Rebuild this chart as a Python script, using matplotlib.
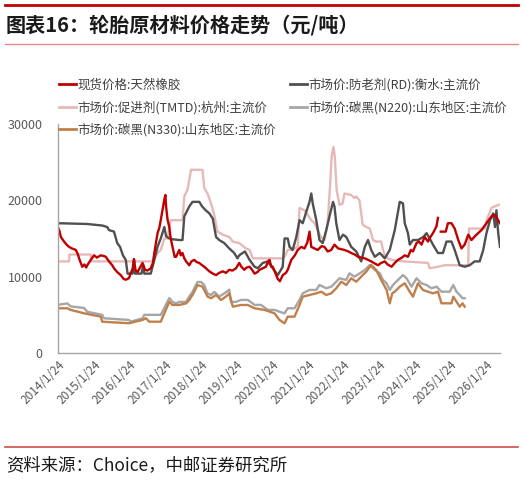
import numpy as np
import matplotlib
matplotlib.use("Agg")
import matplotlib.pyplot as plt
from matplotlib.lines import Line2D

plt.rcParams['font.family'] = ['Noto Sans CJK SC', 'DejaVu Sans']

# ---- data (decimal years, 元/吨) ----
rubber_x = [2014.03, 2014.10, 2014.14, 2014.23, 2014.30, 2014.37, 2014.45, 2014.56, 2014.62, 2014.65,
            2014.70, 2014.74, 2014.80, 2014.85, 2014.88, 2014.95, 2014.98, 2015.07, 2015.15, 2015.26,
            2015.35, 2015.40, 2015.49, 2015.58, 2015.63, 2015.72, 2015.82, 2015.90, 2015.96, 2016.05,
            2016.10, 2016.15, 2016.19, 2016.23, 2016.29, 2016.36, 2016.43, 2016.50, 2016.57, 2016.66,
            2016.72, 2016.76, 2016.85, 2016.90, 2016.94, 2017.00, 2017.04, 2017.07, 2017.09, 2017.13,
            2017.18, 2017.22, 2017.27, 2017.33, 2017.37, 2017.46, 2017.50, 2017.55, 2017.60, 2017.65,
            2017.74, 2017.80, 2017.88, 2017.95, 2018.02, 2018.10, 2018.16, 2018.23, 2018.30, 2018.40,
            2018.49, 2018.58, 2018.68, 2018.77, 2018.86, 2018.95, 2019.05, 2019.14, 2019.20, 2019.28,
            2019.35, 2019.43, 2019.50, 2019.57, 2019.65, 2019.71, 2019.80, 2019.89, 2019.95, 2019.99,
            2020.04, 2020.08, 2020.15, 2020.22, 2020.28, 2020.36, 2020.45, 2020.50, 2020.60, 2020.70,
            2020.78, 2020.88, 2020.97, 2021.05, 2021.11, 2021.16, 2021.25, 2021.34, 2021.45, 2021.53,
            2021.62, 2021.72, 2021.81, 2021.91, 2022.00, 2022.09, 2022.20, 2022.28, 2022.38, 2022.47,
            2022.56, 2022.66, 2022.75, 2022.84, 2022.95, 2023.03, 2023.12, 2023.22, 2023.30, 2023.41,
            2023.50, 2023.59, 2023.70, 2023.78, 2023.87, 2023.95, 2024.01, 2024.11, 2024.18, 2024.25,
            2024.34, 2024.43, 2024.50, 2024.57, 2024.67, 2024.71, 2024.75, 2024.79, 2024.93, 2024.99,
            2025.09, 2025.18, 2025.28, 2025.37, 2025.46, 2025.56, 2025.65, 2025.79, 2025.93, 2026.07,
            2026.21, 2026.31, 2026.38, 2026.45]
rubber_y = [16800, 16000, 15200, 14600, 14200, 13900, 13700, 13500, 12900, 12400,
            11800, 11300, 11600, 11200, 11500, 12000, 12200, 12800, 12500, 12800,
            12700, 12600, 12000, 11500, 11100, 10600, 10200, 9700, 9600, 9800,
            10500, 11000, 12300, 10900, 10600, 11200, 11800, 10900, 10800, 11100,
            11800, 13100, 15700, 16400, 17400, 19000, 20100, 20700, 19200, 17500,
            16500, 15000, 13900, 12600, 12600, 13500, 12800, 13100, 12400, 12000,
            11500, 12000, 12200, 11900, 11800, 11500, 11300, 11000, 10700, 10400,
            10200, 10500, 10700, 10500, 10900, 10800, 11100, 11800, 11300, 10900,
            11200, 11300, 10900, 10400, 10600, 10900, 11100, 11300, 12000, 12200,
            11300, 11300, 10500, 9700, 9400, 10200, 10500, 10900, 12200, 12800,
            13500, 13900, 13700, 14500, 15900, 13900, 13700, 13500, 14000, 13900,
            13300, 13500, 14200, 13700, 13600, 13500, 13300, 13100, 12900, 12600,
            12500, 12400, 12200, 12000, 11700, 11500, 11800, 12000, 11600, 11300,
            11800, 12200, 12500, 12800, 12600, 13500, 13300, 14400, 14600, 14200,
            15200, 14600, 15200, 15700, 16600, 17700, np.nan, 15900, 15900, 17000,
            17000, 16300, 14800, 13700, 14200, 15500, 14800, 15500, 16100, 17000,
            17900, 18100, 17500, 17000]

rd_x = [2014.03, 2014.10, 2014.88, 2015.30, 2015.44, 2015.49, 2015.63, 2015.72, 2015.80, 2015.88,
        2015.96, 2016.01, 2016.15, 2016.19, 2016.22, 2016.40, 2016.45, 2016.48, 2016.66, 2016.76,
        2016.85, 2016.94, 2017.04, 2017.09, 2017.18, 2017.27, 2017.46, 2017.55, 2017.60, 2017.74,
        2017.83, 2018.02, 2018.10, 2018.20, 2018.30, 2018.40, 2018.49, 2018.58, 2018.72, 2018.86,
        2019.00, 2019.09, 2019.14, 2019.30, 2019.43, 2019.57, 2019.66, 2019.80, 2019.94, 2020.08,
        2020.22, 2020.36, 2020.41, 2020.50, 2020.55, 2020.64, 2020.74, 2020.83, 2020.92, 2021.02,
        2021.11, 2021.16, 2021.20, 2021.30, 2021.39, 2021.48, 2021.58, 2021.67, 2021.77, 2021.81,
        2021.86, 2021.95, 2022.05, 2022.14, 2022.28, 2022.42, 2022.56, 2022.66, 2022.75, 2022.84,
        2022.94, 2023.08, 2023.22, 2023.36, 2023.50, 2023.64, 2023.73, 2023.78, 2023.87, 2023.92,
        2024.01, 2024.15, 2024.30, 2024.39, 2024.48, 2024.57, 2024.71, 2024.85, 2024.95, 2025.09,
        2025.18, 2025.32, 2025.46, 2025.60, 2025.74, 2025.88, 2025.98, 2026.07, 2026.17, 2026.26,
        2026.31, 2026.35, 2026.40, 2026.45]
rd_y = [16800, 17000, 16900, 16700, 16500, 16100, 15900, 14400, 13900, 12800,
        12200, 10400, 10400, 12300, 10400, 10400, 11500, 10400, 10400, 12200,
        13900, 15000, 16500, 15300, 15000, 14900, 14800, 14800, 17900, 19200,
        19800, 19800, 19200, 18700, 18300, 17600, 15200, 14800, 14400, 13700,
        13100, 12400, 12800, 13300, 12200, 11300, 11100, 11800, 12000, 11100,
        10200, 11300, 15000, 15000, 13900, 13500, 15200, 17400, 17000, 18500,
        19800, 20900, 19600, 17400, 14800, 14400, 16100, 17900, 19800, 19200,
        17000, 14800, 15500, 15200, 13900, 13300, 12000, 13900, 14800, 13500,
        12600, 13100, 12400, 13500, 16100, 19800, 19600, 17000, 15700, 14200,
        14800, 14800, 15200, 15700, 15000, 14200, 13100, 13100, 14600, 14600,
        13500, 11500, 11300, 11500, 12000, 12000, 13500, 15700, 17400, 18300,
        16500, 18700, 15700, 13900]

tmtd_x = [2014.03, 2014.37, 2014.38, 2014.98, 2015.00, 2016.70, 2016.76, 2016.85, 2016.94, 2017.04,
          2017.13, 2017.22, 2017.55, 2017.60, 2017.69, 2017.74, 2017.79, 2018.11, 2018.16, 2018.25,
          2018.35, 2018.44, 2018.53, 2018.68, 2018.86, 2018.96, 2019.14, 2019.33, 2019.43, 2019.52,
          2020.36, 2020.41, 2020.50, 2020.60, 2020.78, 2020.83, 2020.97, 2021.06, 2021.16, 2021.25,
          2021.34, 2021.43, 2021.53, 2021.62, 2021.69, 2021.73, 2021.78, 2021.82, 2021.87, 2021.95,
          2022.04, 2022.09, 2022.28, 2022.37, 2022.42, 2022.51, 2022.56, 2022.60, 2022.70, 2022.80,
          2022.89, 2022.98, 2023.12, 2023.17, 2023.22, 2023.31, 2023.41, 2023.75, 2024.43, 2024.48,
          2024.71, 2024.90, 2025.56, 2025.58, 2026.03, 2026.07, 2026.17, 2026.21, 2026.40, 2026.45]
tmtd_y = [12000, 12000, 12900, 12900, 12000, 12000, 12400, 13100, 13500, 15000,
          15000, 17400, 17400, 20500, 21400, 22700, 24000, 24000, 21600, 20900,
          19600, 18100, 15900, 15500, 15200, 14600, 14400, 13700, 13500, 12400,
          12400, 12600, 13500, 13500, 13900, 19000, 18700, 18100, 17400, 17000,
          16100, 15200, 14800, 17000, 22200, 25700, 27000, 25700, 21400, 19400,
          19600, 20900, 20700, 20300, 20500, 20000, 18300, 16800, 16500, 16300,
          14800, 14600, 14600, 13500, 12800, 12400, 12200, 12000, 11800, 11100,
          11300, 11500, 11500, 16300, 16300, 17400, 18500, 19000, 19400, 19400]

n220_x = [2014.04, 2014.32, 2014.42, 2014.79, 2014.88, 2015.30, 2015.35, 2016.05, 2016.10, 2016.43,
          2016.48, 2016.94, 2017.04, 2017.18, 2017.27, 2017.37, 2017.46, 2017.65, 2017.74, 2017.83,
          2017.97, 2018.07, 2018.16, 2018.25, 2018.35, 2018.44, 2018.58, 2018.72, 2018.86, 2018.91,
          2019.05, 2019.19, 2019.38, 2019.57, 2019.75, 2019.94, 2020.13, 2020.27, 2020.41, 2020.50,
          2020.69, 2020.83, 2020.92, 2021.11, 2021.30, 2021.39, 2021.58, 2021.72, 2021.86, 2021.95,
          2022.14, 2022.23, 2022.37, 2022.52, 2022.66, 2022.80, 2022.94, 2023.08, 2023.17, 2023.27,
          2023.36, 2023.45, 2023.59, 2023.73, 2023.83, 2023.97, 2024.11, 2024.25, 2024.39, 2024.53,
          2024.67, 2024.81, 2025.04, 2025.14, 2025.23, 2025.32, 2025.40, 2025.46]
n220_y = [6300, 6500, 6100, 5900, 5400, 5000, 4550, 4330, 4100, 4550,
          5000, 5000, 5900, 7200, 6700, 6500, 6700, 6700, 7400, 8000,
          9300, 9300, 8900, 7800, 7600, 8000, 7400, 7800, 8300, 6700,
          6700, 6950, 6950, 6300, 6300, 5650, 5650, 5410, 5200, 5860,
          5860, 6950, 7820, 8260, 8260, 8910, 8480, 8690, 9340, 9790,
          9570, 10440, 10000, 10440, 10880, 11530, 10880, 10440, 9570, 9130,
          8260, 8910, 9570, 10220, 9790, 8690, 9790, 9130, 8910, 8480,
          8690, 8030, 8030, 8910, 8030, 7600, 7170, 7170]

n330_x = [2014.04, 2014.32, 2014.42, 2014.79, 2015.26, 2015.30, 2016.05, 2016.43, 2016.52, 2016.62,
          2016.94, 2017.04, 2017.18, 2017.27, 2017.46, 2017.65, 2017.74, 2017.83, 2017.97, 2018.11,
          2018.25, 2018.35, 2018.49, 2018.63, 2018.77, 2018.86, 2018.96, 2019.19, 2019.38, 2019.57,
          2019.85, 2020.13, 2020.27, 2020.41, 2020.50, 2020.69, 2020.83, 2020.92, 2021.11, 2021.30,
          2021.44, 2021.58, 2021.72, 2021.86, 2022.00, 2022.14, 2022.28, 2022.42, 2022.56, 2022.70,
          2022.84, 2022.98, 2023.12, 2023.27, 2023.36, 2023.43, 2023.50, 2023.64, 2023.78, 2023.92,
          2024.01, 2024.15, 2024.29, 2024.43, 2024.57, 2024.71, 2024.81, 2025.09, 2025.14, 2025.23,
          2025.32, 2025.40, 2025.46]
n330_y = [5860, 5860, 5640, 5200, 4760, 4100, 3900, 4330, 4550, 4100,
          4100, 5200, 6700, 6300, 6300, 6500, 6950, 7600, 8900, 8700,
          7400, 7170, 7600, 6950, 7400, 7800, 6070, 6290, 6290, 5860,
          5640, 5200, 4330, 3890, 4760, 4760, 6290, 7380, 7600, 7820,
          8030, 7600, 7820, 8480, 9340, 8910, 9790, 9340, 10000, 10650,
          11530, 10880, 9570, 8260, 6510, 7820, 8030, 8690, 9130, 8030,
          7380, 9130, 8260, 8030, 7820, 8030, 6510, 6510, 7380, 6720,
          6070, 6510, 6070]

labels = ['现货价格:天然橡胶', '市场价:防老剂(RD):衡水:主流价', '市场价:促进剂(TMTD):杭州:主流价',
          '市场价:碳黑(N220):山东地区:主流价', '市场价:碳黑(N330):山东地区:主流价']
colors = ['#C00000', '#505050', '#E6B9B8', '#A6A6A6', '#C0804D']
tick_years = list(range(2014, 2027))

fig = plt.figure(figsize=(5.23, 4.8), dpi=100)
ax = fig.add_axes([58 / 523, 1 - 353 / 480, 442 / 523, 229 / 480])

# draw back to front
ax.plot(n220_x, n220_y, color=colors[3], lw=1.7)
ax.plot(n330_x, n330_y, color=colors[4], lw=1.7)
ax.plot(tmtd_x, tmtd_y, color=colors[2], lw=1.7)
ax.plot(rd_x, rd_y, color=colors[1], lw=1.7)
ax.plot(rubber_x, rubber_y, color=colors[0], lw=1.7)

ax.set_ylim(0, 30000)
ax.set_yticks([0, 10000, 20000, 30000])
ax.set_xlim(2014.06, 2026.45)
ticks = [y + 23 / 365 for y in tick_years]
ax.set_xticks(ticks)
ax.set_xticklabels([f'{y}/1/24' for y in tick_years], rotation=45, ha='right',
                   rotation_mode='anchor', fontsize=8.5, color='#595959')
ax.tick_params(axis='y', length=0, labelsize=9, colors='#595959', pad=11)
ax.tick_params(axis='x', length=0, pad=4)
for s in ['top', 'right']:
    ax.spines[s].set_visible(False)
for s in ['left', 'bottom']:
    ax.spines[s].set_color('#A6A6A6')
    ax.spines[s].set_linewidth(1.0)

handles = [Line2D([], [], color=c, lw=2) for c in colors]
order = [0, 2, 4, 1, 3]
fig.legend([handles[i] for i in order], [labels[i] for i in order],
           loc='upper left', bbox_to_anchor=(59 / 523, 1 - 78 / 480), ncol=2,
           frameon=False, fontsize=9, handlelength=1.35, handletextpad=0.1,
           labelspacing=0.72, columnspacing=1.15, borderpad=0, borderaxespad=0,
           labelcolor='#404040')

# header / footer
fig.add_artist(Line2D([0.01, 0.99], [1 - 5 / 480] * 2, color='#C00000', lw=2))
fig.add_artist(Line2D([0.01, 0.99], [1 - 44 / 480] * 2, color='#E08A8A', lw=1))
fig.add_artist(Line2D([0.01, 0.99], [1 - 447 / 480] * 2, color='#D04A4A', lw=1.2))
fig.text(6 / 523, 1 - 25 / 480, '图表16：轮胎原材料价格走势（元/吨）', fontsize=14.5,
         fontweight='bold', va='center', ha='left', color='#1a1a1a')
fig.text(6 / 523, 1 - 465 / 480, '资料来源：Choice，中邮证券研究所', fontsize=12.5,
         va='center', ha='left', color='#1a1a1a')

fig.savefig('out.png', dpi=100)
